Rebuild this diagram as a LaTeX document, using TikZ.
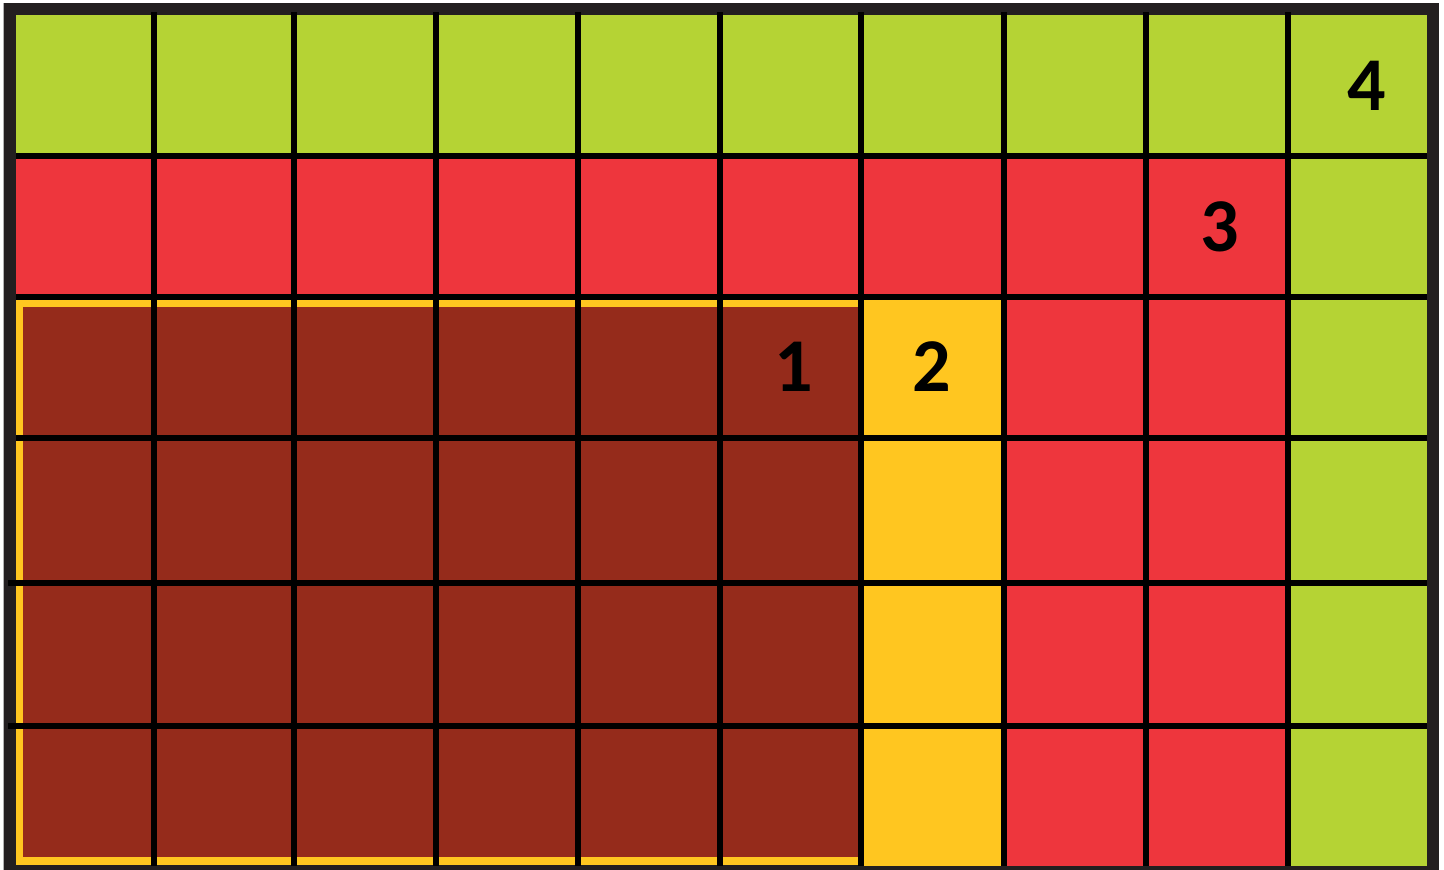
\documentclass[tikz,border=0pt]{standalone}
\usepackage{fontspec}
\newfontfamily\labelfont{Carlito}
\definecolor{cgreen}{HTML}{B5D334}
\definecolor{cred}{HTML}{EE363D}
\definecolor{cbrown}{HTML}{952B1B}
\definecolor{cyellow}{HTML}{FFC620}
\definecolor{cframe}{HTML}{231F20}
\tikzset{
  gridline/.style={line width=6pt, draw=black},
  numlabel/.style={inner sep=0pt, font=\labelfont\bfseries\fontsize{76}{76}\selectfont, text=black}
}
\begin{document}
\begin{tikzpicture}[x=1pt, y=-1pt]
\useasboundingbox (0,0) rectangle (1444,870);
\fill[white] (0,0) rectangle (1444,870);
% outer frame
\fill[cframe] (4,3) rectangle (1439,870);
\draw[gray!60, line width=1pt] (3.5,3) -- (3.5,870);
% cell regions
\fill[cgreen] (16,15) rectangle (1427,156);
\fill[cgreen] (1288,156) rectangle (1427,866);
\fill[cred] (16,156) rectangle (1288,297);
\fill[cred] (1004,297) rectangle (1288,866);
\fill[cyellow] (861,297) rectangle (1004,866);
\fill[cyellow] (16,297) rectangle (861,865);
\fill[cbrown] (23,307) rectangle (858,857);
% vertical grid lines
\foreach \x in {154,294,436,578,720,861,1004,1146,1288}
  \draw[gridline] (\x,12) -- (\x,866);
% horizontal grid lines
\foreach \y in {156,297,438}
  \draw[gridline] (16,\y) -- (1427,\y);
\foreach \y in {583,726}
  \draw[gridline] (8,\y) -- (1427,\y);
% labels
\node[numlabel] (n1) at (794,367) {1};
\node[numlabel] (n2) at (932,367) {2};
\node[numlabel] (n3) at (1220,227) {3};
\node[numlabel] (n4) at (1367,86) {4};
\end{tikzpicture}
\end{document}
